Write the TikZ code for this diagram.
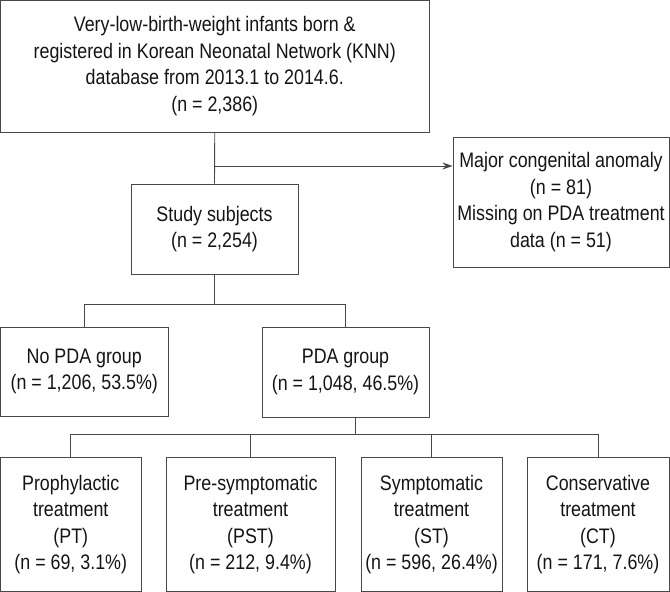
\documentclass[tikz,border=0pt]{standalone}
\usepackage{fontspec}
\setmainfont{Liberation Sans}[FakeStretch=0.85]
\usetikzlibrary{arrows.meta}
\definecolor{linec}{HTML}{484848}
\definecolor{textc}{HTML}{141414}
\begin{document}
\begin{tikzpicture}[x=1pt,y=-1pt,
  box/.style={draw=linec,line width=0.9pt,align=center,inner sep=0pt,
    text=textc,font=\fontsize{21}{26.5}\selectfont},
  conn/.style={draw=linec,line width=0.9pt},
  arr/.style={conn,-{Stealth[length=10pt,width=7pt]}}]
\useasboundingbox (0,0) rectangle (670,592);
\node[box,minimum width=428.5pt,minimum height=131.5pt] (top) at (214.75,66.25)
  {Very-low-birth-weight infants born \&\\registered in Korean Neonatal Network (KNN)\\database from 2013.1 to 2014.6.\\(n = 2,386)};
\node[box,minimum width=216pt,minimum height=130pt] (excl) at (561,202)
  {Major congenital anomaly\\(n = 81)\\Missing on PDA treatment\\data (n = 51)};
\node[box,minimum width=167pt,minimum height=90pt] (study) at (214.5,229)
  {Study subjects\\(n = 2,254)};
\node[box,minimum width=167.5pt,minimum height=89pt] (nopda) at (84.25,371.5)
  {No PDA group\\(n = 1,206, 53.5\%)};
\node[box,minimum width=167pt,minimum height=90pt] (pda) at (345.5,372)
  {PDA group\\(n = 1,048, 46.5\%)};
\node[box,minimum width=140.5pt,minimum height=134pt] (pt) at (70.75,524.5)
  {Prophylactic\\treatment\\(PT)\\(n = 69, 3.1\%)};
\node[box,minimum width=169pt,minimum height=134pt] (pst) at (250.5,524.5)
  {Pre-symptomatic\\treatment\\(PST)\\(n = 212, 9.4\%)};
\node[box,minimum width=141pt,minimum height=134pt] (st) at (431.5,524.5)
  {Symptomatic\\treatment\\(ST)\\(n = 596, 26.4\%)};
\node[box,minimum width=142pt,minimum height=134pt] (ct) at (598,524.5)
  {Conservative\\treatment\\(CT)\\(n = 171, 7.6\%)};
\coordinate (j1) at (214.5,166);
\coordinate (j2) at (214.5,304);
\coordinate (j3) at (355,434);
\draw[conn] (top.south) -- (study.north);
\draw[arr] (j1) -- (excl.west |- j1);
\draw[conn] (study.south) -- (j2);
\draw[conn] (nopda.north) -- (nopda.north |- j2) -- (pda.north |- j2) -- (pda.north);
\draw[conn] (pda.south -| j3) -- (j3);
\draw[conn] (pt.north) -- (pt.north |- j3) -- (ct.north |- j3) -- (ct.north);
\draw[conn] (pst.north) -- (pst.north |- j3);
\draw[conn] (st.north) -- (st.north |- j3);
\end{tikzpicture}
\end{document}
